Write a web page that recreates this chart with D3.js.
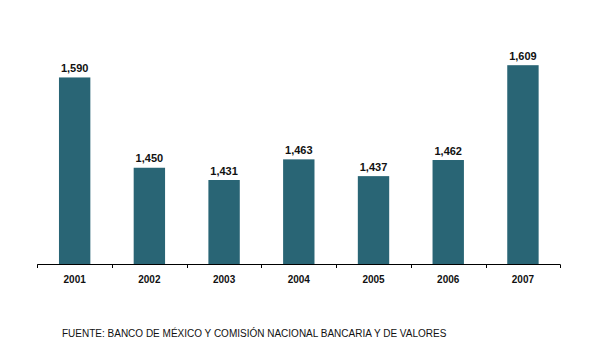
<!DOCTYPE html>
<html><head><meta charset="utf-8">
<script src="https://cdn.jsdelivr.net/npm/d3@7"></script>
<style>body{margin:0;background:#fff;}svg{display:block;}</style>
</head><body>
<svg id="c" width="600" height="360"></svg>
<script>
const years = ["2001","2002","2003","2004","2005","2006","2007"];
const values = [1590, 1450, 1431, 1463, 1437, 1462, 1609];
const source = "FUENTE: BANCO DE MÉXICO Y COMISIÓN NACIONAL BANCARIA Y DE VALORES";

const svg = d3.select("#c");
const font = "Arial, 'Liberation Sans', sans-serif";
const x = d3.scaleBand().domain(years).range([37.3, 560.3]).paddingInner(0.58).paddingOuter(0.29);
const y = d3.scaleLinear().domain([1300, 1700]).range([264.5, 6.5]);

svg.selectAll("rect.bar").data(values).enter().append("rect")
  .attr("class","bar")
  .attr("x",(d,i)=>x(years[i]))
  .attr("width",x.bandwidth())
  .attr("y",d=>y(d))
  .attr("height",d=>y(1300)-y(d))
  .attr("fill","#296575");

svg.selectAll("text.val").data(values).enter().append("text")
  .attr("x",(d,i)=>x(years[i])+x.bandwidth()/2)
  .attr("y",d=>y(d)-5.5)
  .attr("text-anchor","middle")
  .attr("font-family",font).attr("font-weight","bold").attr("font-size","11px")
  .attr("fill","#111")
  .text(d=>d3.format(",")(d));

// axis
const xb = d3.scaleLinear().domain([0,7]).range([37.3,560.3]);
svg.append("line").attr("x1",37.3).attr("x2",560.3).attr("y1",264.5).attr("y2",264.5)
  .attr("stroke","#000").attr("stroke-width",1);
svg.selectAll("line.tick").data(d3.range(8)).enter().append("line")
  .attr("x1",d=>Math.round(xb(d))+0.5).attr("x2",d=>Math.round(xb(d))+0.5)
  .attr("y1",264.5).attr("y2",268).attr("stroke","#000");
svg.selectAll("text.year").data(years).enter().append("text")
  .attr("x",d=>x(d)+x.bandwidth()/2)
  .attr("y",283)
  .attr("text-anchor","middle")
  .attr("font-family",font).attr("font-weight","bold").attr("font-size","10px")
  .attr("fill","#111")
  .text(d=>d);

svg.append("text").attr("x",62).attr("y",337)
  .attr("font-family",font).attr("font-size","10px").attr("fill","#111")
  .text(source);
</script>
</body></html>
